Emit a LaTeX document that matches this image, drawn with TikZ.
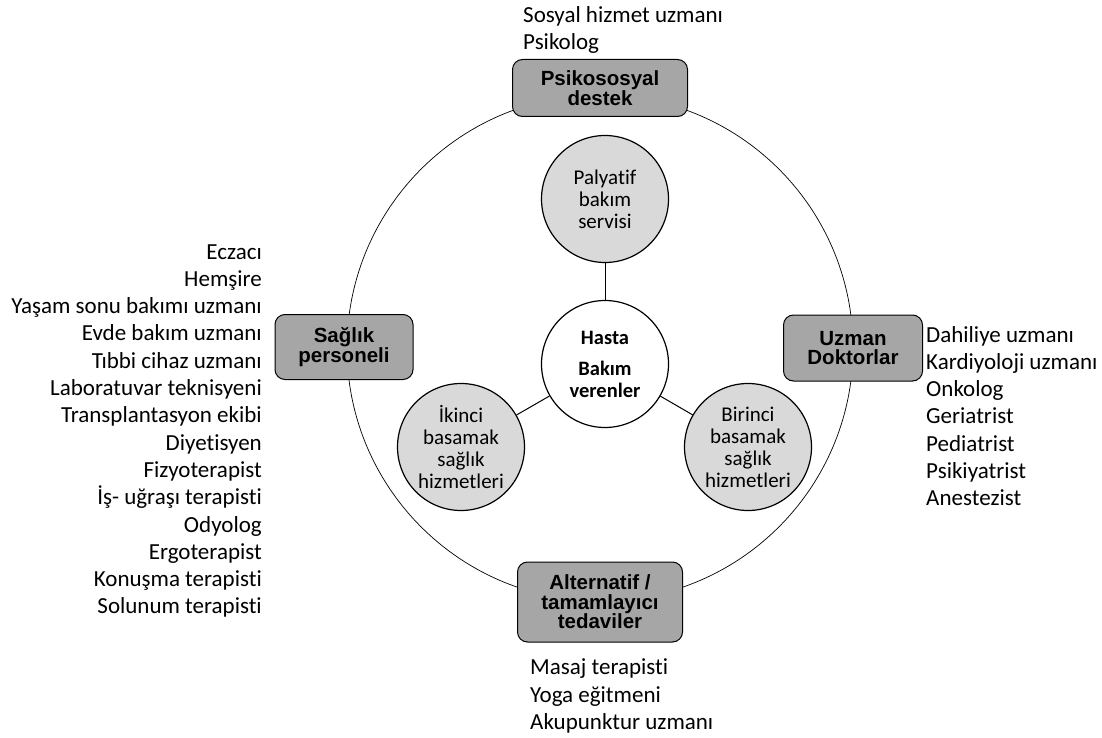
\documentclass[tikz,border=0pt]{standalone}
\usepackage{fontspec}
\setmainfont{Carlito}[Ligatures=NoCommon]
\newfontfamily\kutufont{Liberation Sans}
\usepackage{xcolor}
\usetikzlibrary{positioning}

\definecolor{kutugri}{HTML}{A6A6A6}
\definecolor{dairegri}{HTML}{D9D9D9}

\begin{document}
\begin{tikzpicture}[x=1pt, y=-1pt,
  grup/.style={draw, line width=1pt, rounded corners=10pt, fill=kutugri, align=center,
    font=\kutufont\bfseries\fontsize{20.5}{19.5}\selectfont},
  hizmet/.style={draw, circle, line width=1.2pt, fill=dairegri, minimum size=127pt,
    inner sep=0pt, align=center, font=\fontsize{21}{22}\selectfont},
  liste/.style={inner sep=0pt, font=\fontsize{23}{27.3}\selectfont}]
\useasboundingbox (0,0) rectangle (1102,738);

% Outer ring
\draw[line width=0.7pt] (600,348) circle (253);

% Centre and services
\node[hizmet, fill=white, font=\bfseries\fontsize{20.5}{22}\selectfont] (hasta) at (605,364) {Hasta\\[9pt]Bakım\\verenler};
\node[hizmet] (palyatif) at (605,199) {Palyatif\\bakım\\servisi};
\node[hizmet] (ikinci) at (461,447) {İkinci\\basamak\\sağlık\\hizmetleri};
\node[hizmet] (birinci) at (748,447) {Birinci\\basamak\\sağlık\\hizmetleri};

\draw[line width=1pt] (hasta) -- (palyatif);
\draw[line width=1pt] (hasta) -- (ikinci);
\draw[line width=1pt] (hasta) -- (birinci);

% Groups on the ring
\node[grup, minimum width=175pt, minimum height=57pt] (psiko) at (600,88) {Psikososyal\\destek};
\node[grup, minimum width=138pt, minimum height=65pt] (saglik) at (344,347) {Sağlık\\personeli};
\node[grup, minimum width=139pt, minimum height=66pt] (uzman) at (853,348) {Uzman\\Doktorlar};
\node[grup, minimum width=165pt, minimum height=80pt] (alternatif) at (600,602) {Alternatif /\\tamamlayıcı\\tedaviler};

% Lists
\node[liste, align=left, anchor=west] (psikoliste) at (523,30) {Sosyal hizmet uzmanı\\Psikolog};
\node[liste, align=right, anchor=east] (saglikliste) at (262,431) {Eczacı\\Hemşire\\Yaşam sonu bakımı uzmanı\\Evde bakım uzmanı\\Tıbbi cihaz uzmanı\\Laboratuvar teknisyeni\\Transplantasyon ekibi\\Diyetisyen\\Fizyoterapist\\İş- uğraşı terapisti\\Odyolog\\Ergoterapist\\Konuşma terapisti\\Solunum terapisti};
\node[liste, align=left, anchor=west] (uzmanliste) at (926,416) {Dahiliye uzmanı\\Kardiyoloji uzmanı\\Onkolog\\Geriatrist\\Pediatrist\\Psikiyatrist\\Anestezist};
\node[liste, align=left, anchor=west] (alternatifliste) at (530,696) {Masaj terapisti\\Yoga eğitmeni\\Akupunktur uzmanı};
\end{tikzpicture}
\end{document}
